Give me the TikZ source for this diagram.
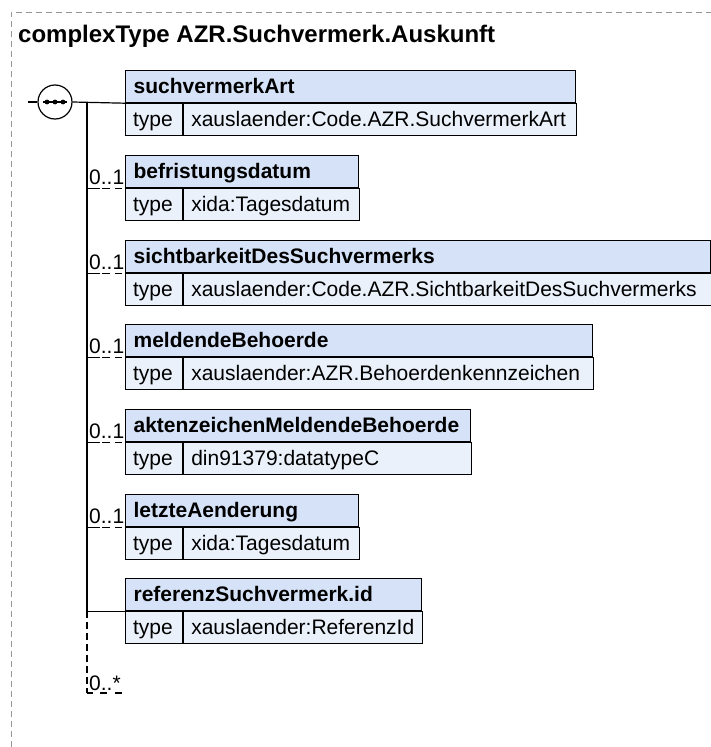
\documentclass[tikz,border=0pt]{standalone}
\usepackage{fontspec}
\setmainfont{Liberation Sans}
\definecolor{namefill}{RGB}{214,226,247}
\definecolor{typefill}{RGB}{234,241,251}
\definecolor{framegray}{RGB}{150,150,150}
\tikzset{
  cellbase/.style={draw=black, line width=1.2pt, anchor=north west, minimum height=32pt,
    inner ysep=0pt, text height=16pt, text depth=2pt, align=left},
  namecell/.style={cellbase, fill=namefill, inner xsep=8pt, font=\bfseries\fontsize{21}{25}\selectfont},
  typecell/.style={cellbase, fill=typefill, inner xsep=7.5pt, font=\fontsize{21}{25}\selectfont},
  wire/.style={line width=1.2pt},
  optwire/.style={line width=1.2pt, dash pattern=on 13pt off 2pt on 8pt off 5pt on 7pt off 3pt},
  repwire/.style={line width=1.2pt, dash pattern=on 7pt off 4pt},
  card/.style={anchor=base west, inner sep=0pt, font=\fontsize{21}{25}\selectfont},
}
\newcommand{\elem}[5]{%
  \pgfmathsetmacro{\wn}{#3-125-16}%
  \pgfmathsetmacro{\wv}{#3-182-15}%
  \node[namecell, text width=\wn pt] (#1) at (125,-#2) {#4};
  \node[typecell, text width=42pt] (#1t) at (#1.south west) {type};
  \node[typecell, text width=\wv pt] (#1v) at (#1t.north east) {#5};
}
\begin{document}
\begin{tikzpicture}[x=1pt,y=1pt]
\useasboundingbox (0,0) rectangle (711,-747);
% frame
\coordinate (fbl) at (11,-747);
\coordinate (ftl) at (11,-12);
\coordinate (ftr) at (711,-12);
\draw[framegray, line width=1pt, dash pattern=on 6pt off 4pt] (fbl) -- (ftl) -- (ftr);
\node[anchor=base west, inner sep=0pt, font=\bfseries\fontsize{24}{28}\selectfont] (title) at (18,-42) {complexType AZR.Suchvermerk.Auskunft};
% elements
\elem{e1}{70}{575}{suchvermerkArt}{xauslaender:Code.AZR.SuchvermerkArt}
\elem{e2}{155}{358}{befristungsdatum}{xida:Tagesdatum}
\elem{e3}{240}{710}{sichtbarkeitDesSuchvermerks}{xauslaender:Code.AZR.SichtbarkeitDesSuchvermerks}
\elem{e4}{324}{592}{meldendeBehoerde}{xauslaender:AZR.Behoerdenkennzeichen}
\elem{e5}{409}{470}{aktenzeichenMeldendeBehoerde}{din91379:datatypeC}
\elem{e6}{494}{358}{letzteAenderung}{xida:Tagesdatum}
\elem{e7}{578}{421}{referenzSuchvermerk.id}{xauslaender:ReferenzId}
% sequence compositor
\node[circle, draw=black, fill=white, line width=1.2pt, minimum size=34pt, inner sep=0pt] (seq) at (55,-102) {};
\draw[line width=1.2pt] ([xshift=-12pt]seq.center) -- ([xshift=12pt]seq.center);
\foreach \dx in {-8,0,8} \fill ([xshift=\dx pt]seq.center) circle (2.4pt);
\coordinate (in) at (28,-102);
\coordinate (trunk) at (87,-102);
\coordinate (rep) at (87,-693);
\coordinate (repend) at (122,-693);
\draw[wire] (in) -- (seq.west);
\draw[wire] (seq.east) -- (e1.south west);
\draw[wire] (trunk) |- (e7.south west);
\foreach \e in {e2,e3,e4,e5,e6}{
  \draw[optwire] (trunk |- \e.south west) -- (\e.south west);
  \node[card] at ([xshift=2pt,yshift=4pt]trunk |- \e.south west) {0..1};
}
\draw[repwire] (trunk |- e7.south west) -- (rep);
\draw[line width=1.2pt, dash pattern=on 6pt off 7pt on 7pt off 8pt on 7pt] (rep) -- (repend);
\node[card] at ([xshift=2pt,yshift=3pt]rep) {0..*};
\end{tikzpicture}
\end{document}
